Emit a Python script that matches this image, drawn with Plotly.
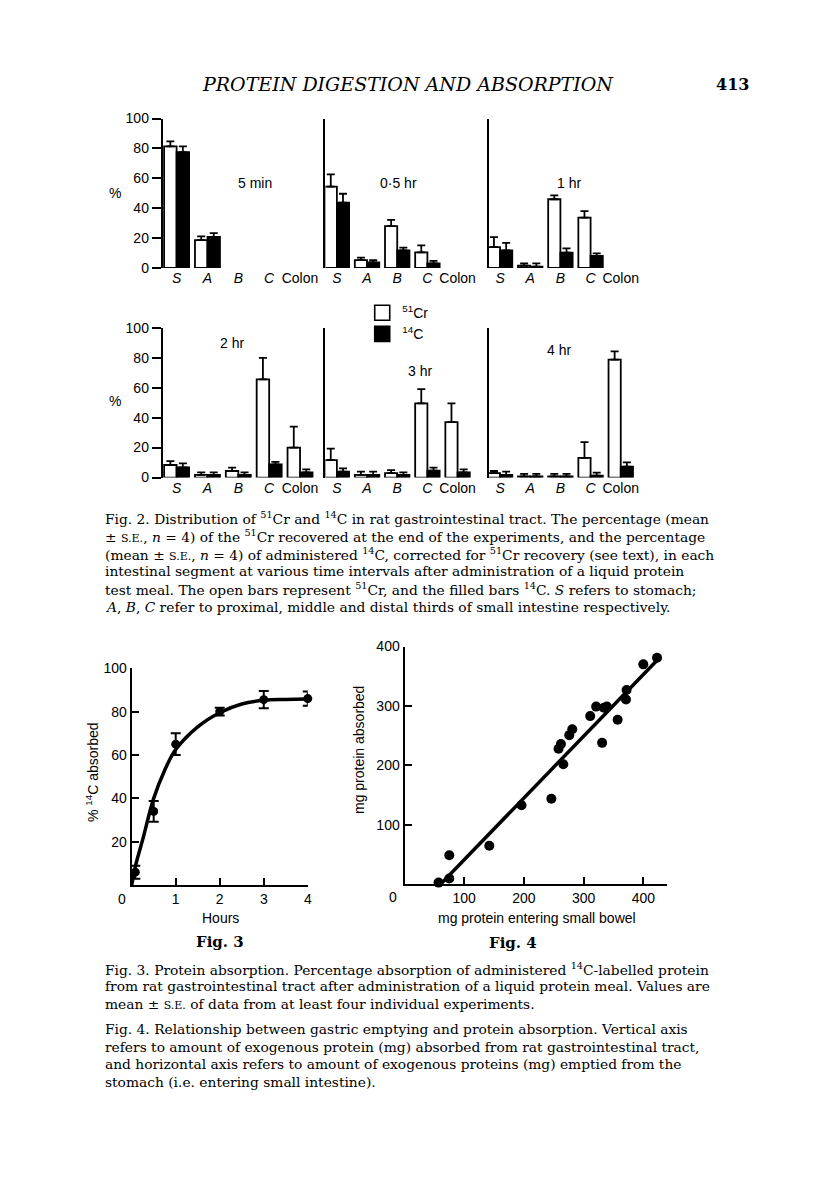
"""Pagina 413: distribuicao de 51Cr / 14C (Fig. 2), absorcao de proteina (Fig. 3 e Fig. 4)."""

import plotly.graph_objects as go

PAGE_W, PAGE_H = 816, 1181
BODY = 8  # margem padrao do <body> no navegador
W, H = PAGE_W - 2 * BODY, PAGE_H - 2 * BODY

# ---- Fig. 2 data (mean %, S.E.) ----
segments = ["S", "A", "B", "C", "Colon"]
panel_labels = ["5 min", "0·5 hr", "1 hr", "2 hr", "3 hr", "4 hr"]
isotopes = ["<sup>51</sup>Cr", "<sup>14</sup>C"]

cr_5min = [81.4, 18.6, None, None, None]
cr_5min_se = [3.3, 2.6, None, None, None]
c14_5min = [77.5, 20.8, None, None, None]
c14_5min_se = [3.9, 2.6, None, None, None]

cr_05hr = [54.5, 5.3, 28.0, 10.5, None]
cr_05hr_se = [8.1, 1.7, 4.2, 4.6, None]
c14_05hr = [43.8, 3.7, 11.8, 3.1, None]
c14_05hr_se = [5.9, 1.6, 1.8, 1.7, None]

cr_1hr = [14.0, 1.5, 46.0, 33.7, None]
cr_1hr_se = [6.6, 1.6, 2.6, 4.3, None]
c14_1hr = [11.8, 0.9, 10.3, 8.1, None]
c14_1hr_se = [5.0, 2.2, 2.8, 1.7, None]

cr_2hr = [8.4, 1.8, 4.4, 65.5, 20.0]
cr_2hr_se = [2.6, 1.7, 2.2, 14.3, 14.0]
c14_2hr = [6.8, 1.8, 1.8, 8.8, 3.5]
c14_2hr_se = [2.7, 1.7, 1.7, 1.7, 2.0]

cr_3hr = [11.6, 1.8, 2.9, 49.5, 37.0]
cr_3hr_se = [7.7, 2.2, 2.1, 9.5, 12.5]
c14_3hr = [4.0, 1.8, 1.8, 4.6, 3.5]
c14_3hr_se = [2.2, 2.2, 1.7, 2.0, 2.0]

cr_4hr = [2.9, 0.7, 0.7, 13.2, 78.7]
cr_4hr_se = [1.5, 1.7, 1.7, 10.5, 5.5]
c14_4hr = [1.8, 0.7, 0.7, 1.3, 7.3]
c14_4hr_se = [2.2, 1.7, 1.7, 2.0, 2.8]

pct_ticks = [0, 20, 40, 60, 80, 100]

# ---- Fig. 3 data ----
hours = [0.083, 0.5, 1, 2, 3, 4]
pct_absorbed = [6, 34, 65, 80, 85.5, 86]
pct_absorbed_se = [3, 4.8, 5, 1.8, 4, 3.3]
curve_hours = [0, 0.1, 0.25, 0.5, 0.75, 1, 1.5, 2, 2.5, 3, 3.5, 4]
curve_pct = [0, 10, 21, 40, 53, 62.5, 73, 79.5, 83.5, 85.2, 85.6, 85.8]

# ---- Fig. 4 data ----
mg_entering = [57, 75, 75, 142, 196, 246, 258, 262, 266, 276, 281, 311, 321,
               331, 334, 339, 357, 371, 372, 400, 423]
mg_absorbed = [3, 49, 10, 65, 133, 144, 228, 236, 202, 251, 261, 283, 299,
               238, 297, 299, 277, 311, 327, 370, 381]
fit_entering = [60, 428]
fit_absorbed = [0, 382]


def fx(px):
    return (px - BODY) / W


def fy(py):
    return 1 - (py - BODY) / H


SANS = "Liberation Sans, Arial"
SERIF = "DejaVu Serif"

fig = go.Figure()

panels = [
    (cr_5min, cr_5min_se, c14_5min, c14_5min_se),
    (cr_05hr, cr_05hr_se, c14_05hr, c14_05hr_se),
    (cr_1hr, cr_1hr_se, c14_1hr, c14_1hr_se),
    (cr_2hr, cr_2hr_se, c14_2hr, c14_2hr_se),
    (cr_3hr, cr_3hr_se, c14_3hr, c14_3hr_se),
    (cr_4hr, cr_4hr_se, c14_4hr, c14_4hr_se),
]

# x domains (px) and ranges of the three columns, y domains of two rows
col_dom = [(163.5, 317), (327, 475), (491, 639)]
col_rng = [[-0.45, 4.5], [-0.38, 4.5], [-0.38, 4.5]]
row_dom = [(112, 263.5), (324, 476)]

for i, (cr, cr_se, c14, c14_se) in enumerate(panels):
    n = i + 1
    xa, ya = f"x{n}", f"y{n}"
    fig.add_trace(go.Bar(
        x=segments, y=cr, name=isotopes[0], xaxis=xa, yaxis=ya,
        marker=dict(color="white", line=dict(color="black", width=1.8)),
        error_y=dict(type="data", symmetric=False, array=cr_se,
                     arrayminus=[0] * 5, color="black", thickness=1.8, width=4),
        showlegend=False,
    ))
    fig.add_trace(go.Bar(
        x=segments, y=c14, name=isotopes[1], xaxis=xa, yaxis=ya,
        marker=dict(color="black", line=dict(color="black", width=1.8)),
        error_y=dict(type="data", symmetric=False, array=c14_se,
                     arrayminus=[0] * 5, color="black", thickness=1.8, width=4),
        showlegend=False,
    ))
    r, c = divmod(i, 3)
    x0, x1 = col_dom[c]
    y0, y1 = row_dom[r]
    fig.layout[f"xaxis{n}"] = dict(
        domain=[fx(x0), fx(x1)], range=col_rng[c], anchor=ya,
        tickmode="array", tickvals=segments,
        ticktext=["<i>S</i>", "<i>A</i>", "<i>B</i>", "<i>C</i>", "Colon"],
        showline=False, ticks="", showgrid=False, zeroline=False,
        tickfont=dict(family=SANS, size=14, color="black"),
    )
    fig.layout[f"yaxis{n}"] = dict(
        domain=[fy(y1), fy(y0)], range=[0, 100], anchor=xa,
        showline=True, linecolor="black", linewidth=2,
        showgrid=False, zeroline=False,
        ticks="outside" if c == 0 else "", ticklen=9, tickwidth=1.5,
        tickcolor="black", tickvals=pct_ticks, showticklabels=(c == 0),
        tickfont=dict(family=SANS, size=14, color="black"),
    )

# legend keys (open / filled squares, as in the printed key)
for name, fill in zip(isotopes, ["white", "black"]):
    fig.add_trace(go.Scatter(
        x=[None], y=[None], mode="markers", name=name, xaxis="x1", yaxis="y1",
        marker=dict(symbol="square", size=15, color=fill,
                    line=dict(color="black", width=1.6)),
    ))

# ---- Fig. 3 ----
fig.add_trace(go.Scatter(
    x=curve_hours, y=curve_pct, mode="lines", line_shape="spline",
    line=dict(color="black", width=3.5), xaxis="x7", yaxis="y7", showlegend=False,
))
fig.add_trace(go.Scatter(
    x=hours, y=pct_absorbed, mode="markers",
    marker=dict(color="black", size=9),
    error_y=dict(type="data", array=pct_absorbed_se, color="black", thickness=2, width=5),
    xaxis="x7", yaxis="y7", showlegend=False, cliponaxis=False,
))
fig.layout["xaxis7"] = dict(
    domain=[fx(132.3), fx(309.3)], range=[0, 4], anchor="y7",
    showline=True, linecolor="black", linewidth=2, ticks="inside", ticklen=7,
    tickwidth=2, tickcolor="black", tickvals=[1, 2, 3, 4], showgrid=False,
    zeroline=False, tickfont=dict(family=SANS, size=14, color="black"),
)
fig.layout["yaxis7"] = dict(
    domain=[fy(889.3), fy(669.3)], range=[0, 100], anchor="x7",
    showline=True, linecolor="black", linewidth=2, ticks="inside", ticklen=7,
    tickwidth=2, tickcolor="black", tickvals=[20, 40, 60, 80, 100], showgrid=False,
    zeroline=False, tickfont=dict(family=SANS, size=14, color="black"),
)

# ---- Fig. 4 ----
fig.add_trace(go.Scatter(
    x=fit_entering, y=fit_absorbed, mode="lines",
    line=dict(color="black", width=3.5), xaxis="x8", yaxis="y8", showlegend=False,
))
fig.add_trace(go.Scatter(
    x=mg_entering, y=mg_absorbed, mode="markers",
    marker=dict(color="black", size=10), xaxis="x8", yaxis="y8",
    showlegend=False, cliponaxis=False,
))
fig.layout["xaxis8"] = dict(
    domain=[fx(406.5), fx(670.5)], range=[0, 440], anchor="y8",
    showline=True, linecolor="black", linewidth=2, ticks="inside", ticklen=7,
    tickwidth=2, tickcolor="black", tickvals=[100, 200, 300, 400], showgrid=False,
    zeroline=False, tickfont=dict(family=SANS, size=14, color="black"),
)
fig.layout["yaxis8"] = dict(
    domain=[fy(888.5), fy(647.3)], range=[0, 400], anchor="x8",
    showline=True, linecolor="black", linewidth=2, ticks="inside", ticklen=7,
    tickwidth=2, tickcolor="black", tickvals=[100, 200, 300, 400], showgrid=False,
    zeroline=False, tickfont=dict(family=SANS, size=14, color="black"),
)

# ---- text ----
ann = []


def add_text(text, x, y, size=14, family=SANS, xanchor="center", angle=0):
    ann.append(dict(text=text, x=fx(x), y=fy(y), xref="paper", yref="paper",
                    xanchor=xanchor, yanchor="middle", showarrow=False, textangle=angle,
                    font=dict(family=family, size=size, color="black")))


add_text("<i>PROTEIN DIGESTION AND ABSORPTION</i>", 410, 77, size=19, family=SERIF)
add_text("<b>413</b>", 736, 77, size=16, family=SERIF)

label_pos = [(256, 177), (400, 177), (572, 177), (233, 340), (422, 368), (562, 347)]
for lab, (px_, py_) in zip(panel_labels, label_pos):
    add_text(lab, px_, py_)
add_text("%", 116, 187)
add_text("%", 116, 398)

add_text("0", 123, 903)
add_text("Hours", 222, 923)
add_text("% <sup>14</sup>C absorbed", 93, 775, angle=-90)
add_text("<b>Fig. 3</b>", 221, 947, size=15, family=SERIF)

add_text("0", 395, 901)
add_text("mg protein entering small bowel", 540, 923)
add_text("mg protein absorbed", 361, 752, angle=-90)
add_text("<b>Fig. 4</b>", 516, 948, size=15, family=SERIF)

SE = "<span style='font-size:11px'>S.E.</span>"
CAP = 13.8
cap2 = [
    "Fig. 2. Distribution of <sup>51</sup>Cr and <sup>14</sup>C in rat gastrointestinal tract. The percentage (mean",
    f"± {SE}, <i>n</i> = 4) of the <sup>51</sup>Cr recovered at the end of the experiments, and the percentage",
    f"(mean ± {SE}, <i>n</i> = 4) of administered <sup>14</sup>C, corrected for <sup>51</sup>Cr recovery (see text), in each",
    "intestinal segment at various time intervals after administration of a liquid protein",
    "test meal. The open bars represent <sup>51</sup>Cr, and the filled bars <sup>14</sup>C. <i>S</i> refers to stomach;",
    "<i>A</i>, <i>B</i>, <i>C</i> refer to proximal, middle and distal thirds of small intestine respectively.",
]
for k, line in enumerate(cap2):
    add_text(line, 103, 517 + 18 * k, size=CAP, family=SERIF, xanchor="left")

cap3 = [
    "Fig. 3. Protein absorption. Percentage absorption of administered <sup>14</sup>C-labelled protein",
    "from rat gastrointestinal tract after administration of a liquid protein meal. Values are",
    f"mean ± {SE} of data from at least four individual experiments.",
]
for k, line in enumerate(cap3):
    add_text(line, 103, 974 + 18 * k, size=CAP, family=SERIF, xanchor="left")

cap4 = [
    "Fig. 4. Relationship between gastric emptying and protein absorption. Vertical axis",
    "refers to amount of exogenous protein (mg) absorbed from rat gastrointestinal tract,",
    "and horizontal axis refers to amount of exogenous proteins (mg) emptied from the",
    "stomach (i.e. entering small intestine).",
]
for k, line in enumerate(cap4):
    add_text(line, 103, 1035 + 18 * k, size=CAP, family=SERIF, xanchor="left")

fig.update_layout(
    width=W, height=H, margin=dict(l=0, r=0, t=0, b=0),
    paper_bgcolor="white", plot_bgcolor="rgba(0,0,0,0)",
    barmode="group", bargap=0.19, bargroupgap=0,
    annotations=ann,
    legend=dict(x=fx(364), y=fy(293), xanchor="left", yanchor="top",
                bgcolor="rgba(0,0,0,0)", itemwidth=30, tracegroupgap=0,
                font=dict(family=SANS, size=14, color="black")),
)

fig.write_html("out.html")
